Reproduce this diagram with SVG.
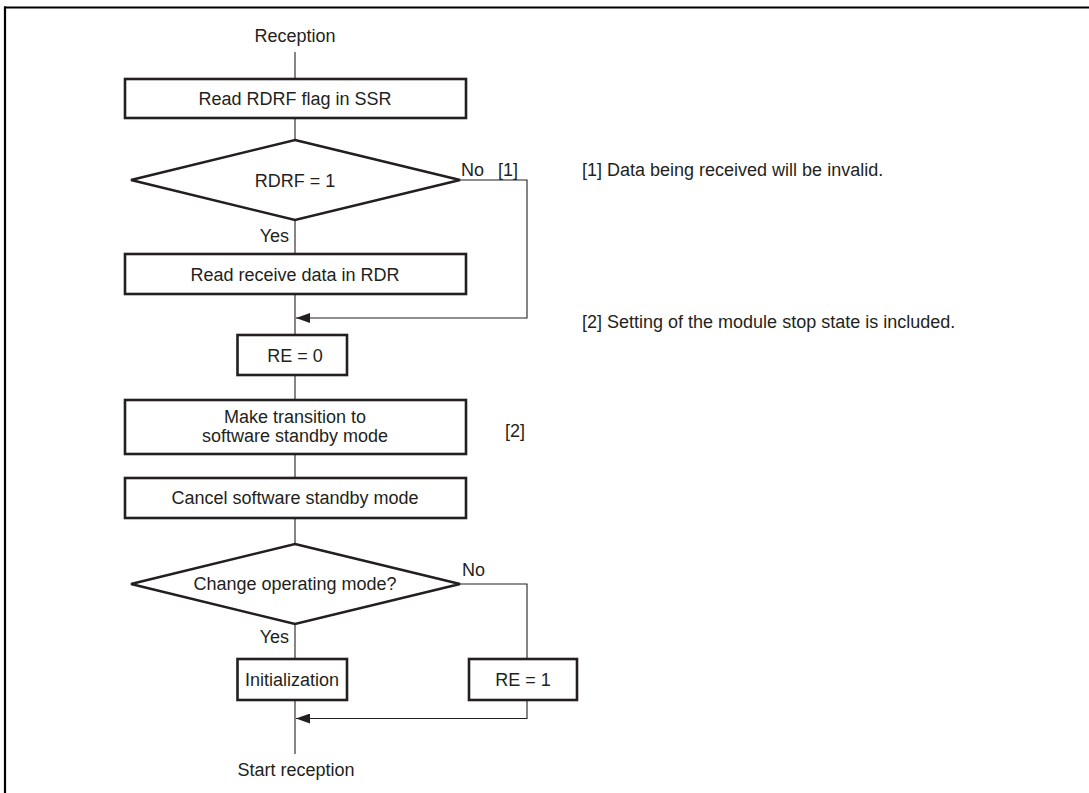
<svg xmlns="http://www.w3.org/2000/svg" width="1089" height="793" viewBox="0 0 1089 793">
<defs>
<style>
.t{font-family:"Liberation Sans",Arial,sans-serif;font-size:18px;fill:#231f20;}
.m{text-anchor:middle;}
.e{text-anchor:end;}
.box{fill:#fff;stroke:#231f20;stroke-width:2.6;}
.ln{fill:none;stroke:#231f20;stroke-width:1.1;}
</style>
<marker id="ah" viewBox="0 0 14 10" refX="14" refY="5" markerWidth="14" markerHeight="10" markerUnits="userSpaceOnUse" orient="auto">
<path d="M0,0 L14,5 L0,10 Z" fill="#231f20"/>
</marker>
</defs>
<rect width="1089" height="793" fill="#fff"/>
<g id="frame">
<line x1="4" y1="7.5" x2="1089" y2="7.5" stroke="#000" stroke-width="2.2"/>
<line x1="5" y1="6.5" x2="5" y2="793" stroke="#000" stroke-width="2.2"/>
</g>
<g id="connectors">
<line class="ln" x1="295" y1="52" x2="295" y2="79"/>
<line class="ln" x1="295" y1="118" x2="295" y2="140"/>
<line class="ln" x1="295" y1="220" x2="295" y2="254"/>
<line class="ln" x1="295" y1="294" x2="295" y2="335"/>
<polyline class="ln" points="460,180 527,180 527,318 296,318" marker-end="url(#ah)"/>
<line class="ln" x1="295" y1="375" x2="295" y2="400"/>
<line class="ln" x1="295" y1="454" x2="295" y2="478"/>
<line class="ln" x1="295" y1="518" x2="295" y2="544"/>
<line class="ln" x1="295" y1="624" x2="295" y2="659"/>
<polyline class="ln" points="460,584 527,584 527,660"/>
<polyline class="ln" points="527,700 527,718.5 296,718.5" marker-end="url(#ah)"/>
<line class="ln" x1="295" y1="700" x2="295" y2="754"/>
<text class="t" x="461" y="176">No</text>
<text class="t" x="498" y="176">[1]</text>
<text class="t e" x="289" y="242">Yes</text>
<text class="t" x="462" y="576">No</text>
<text class="t e" x="289" y="643">Yes</text>
</g>
<g id="start">
<text class="t m" x="295" y="42">Reception</text>
</g>
<g id="readRDRF">
<rect class="box" x="125" y="79" width="341" height="39"/>
<text class="t m" x="295" y="105">Read RDRF flag in SSR</text>
</g>
<g id="decRDRF">
<polygon class="box" points="295,140 460,180 295,220 131,180"/>
<text class="t m" x="295" y="187">RDRF = 1</text>
</g>
<g id="readRDR">
<rect class="box" x="125" y="254" width="341" height="40"/>
<text class="t m" x="295" y="281">Read receive data in RDR</text>
</g>
<g id="re0">
<rect class="box" x="237.5" y="335" width="109.5" height="40"/>
<text class="t m" x="295" y="362">RE = 0</text>
</g>
<g id="transition">
<rect class="box" x="125" y="400" width="341" height="54"/>
<text class="t m" x="295" y="423">Make transition to</text>
<text class="t m" x="295" y="442">software standby mode</text>
</g>
<g id="cancel">
<rect class="box" x="125" y="478" width="341" height="40"/>
<text class="t m" x="295" y="504">Cancel software standby mode</text>
</g>
<g id="decMode">
<polygon class="box" points="295,544 460,584 295,624 131,584"/>
<text class="t m" x="295" y="590">Change operating mode?</text>
</g>
<g id="init">
<rect class="box" x="237.5" y="659" width="109.5" height="41"/>
<text class="t m" x="292" y="686">Initialization</text>
</g>
<g id="re1">
<rect class="box" x="469" y="659" width="108" height="41"/>
<text class="t m" x="523" y="686">RE = 1</text>
</g>
<g id="end">
<text class="t m" x="296" y="776">Start reception</text>
</g>
<g id="notes">
<text class="t" x="505" y="437">[2]</text>
<text class="t" x="582" y="176">[1] Data being received will be invalid.</text>
<text class="t" x="582" y="328">[2] Setting of the module stop state is included.</text>
</g>
</svg>
